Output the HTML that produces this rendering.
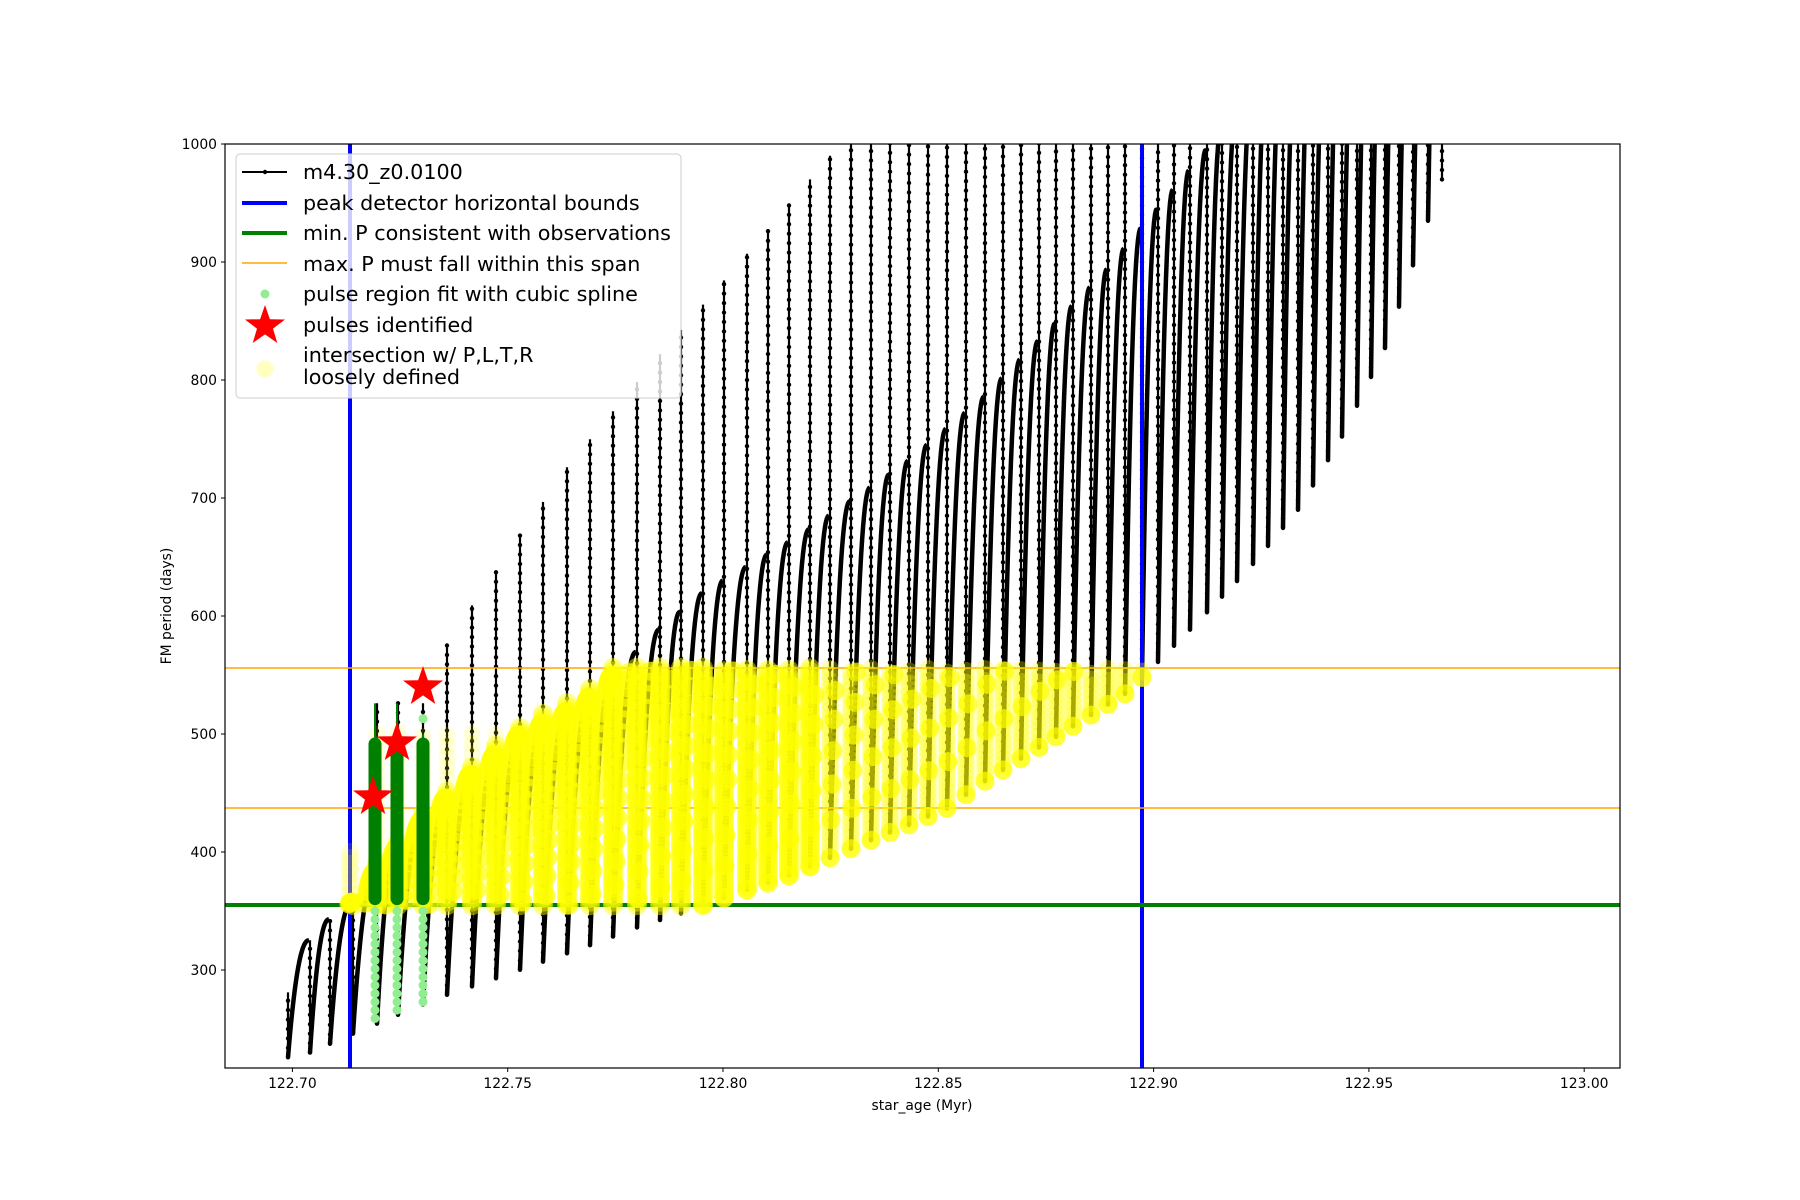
<!DOCTYPE html>
<html><head><meta charset="utf-8"><style>
html,body{margin:0;padding:0;background:#fff;}
svg{display:block;font-family:"DejaVu Sans","Liberation Sans",sans-serif;}
</style></head><body>
<svg id="s" width="1800" height="1200" xmlns="http://www.w3.org/2000/svg">
<defs><clipPath id="ax"><rect x="225" y="144" width="1395" height="924"/></clipPath></defs>
<rect width="1800" height="1200" fill="#fff"/>
<g id="plot" clip-path="url(#ax)"></g>
<rect x="225" y="144" width="1395" height="924" fill="none" stroke="#000" stroke-width="1.2"/>
<g id="ticks" font-size="13.9" fill="#000"></g>
<text x="922" y="1110" font-size="13.9" text-anchor="middle">star_age (Myr)</text>
<text x="0" y="0" font-size="13.9" text-anchor="middle" transform="translate(171,606) rotate(-90)">FM period (days)</text>
<g id="legend"></g>
</svg>
<script>
const Y=v=>144+(1000-v)*1.18;
function interp(p,x){if(x<=p[0][0])return p[0][1];for(let i=1;i<p.length;i++){if(x<=p[i][0]){const a=p[i-1],b=p[i];return a[1]+(b[1]-a[1])*(x-a[0])/(b[0]-a[0]);}}const a=p[p.length-2],b=p[p.length-1];return b[1]+(b[1]-a[1])*(x-b[0])/(b[0]-a[0]);}
const X=[288,310,330,353,377,398,423,447,472,496,520,543,567,590,613,637,660,681,703,724,747,768,789,810,830,851,871,890,909,928,947,966,985,1003,1021,1039,1056,1073,1091,1108,1125,1142,1158,1174,1190,1207,1222,1237,1253,1268,1283,1298,1313,1328,1342,1357,1371,1385,1399,1413,1428,1442];
const AP=[[288,300],[305,321],[323,340],[347,352],[377,385],[420,425],[470,465],[520,500],[583,526],[610,548],[657,587],[703,620],[803,670],[903,728],[983,785],[1103,890],[1203,992],[1442,1250]];
const LP=[[288,226],[310,230],[353,246],[398,262],[447,279],[496,293],[543,307],[590,321],[637,336],[681,348],[703,355],[747,368],[789,380],[830,395],[871,410],[909,423],[947,437],[985,460],[1125,534],[1158,561],[1200,597],[1250,641],[1300,692],[1342,752],[1385,827],[1442,970]];
function H(x){if(x<370)return 0;if(x<435)return 526;return interp([[447,575],[472,609],[566,725],[658,820],[740,900],[850,1010],[1442,1100]],x);}
let spike="",arch="",dots="",yel="",yelS="",yelA="",yelP="";
let prevEnd=null;
const spikes=[];
for(let k=0;k<X.length;k++){
  const x=X[k];const L=interp(LP,x);
  let top;
  if(k==0){top=281;}else{top=Math.max(H(x),prevEnd);}
  if(k==X.length-1)top=1010;
  spike+=`M${x},${Y(top).toFixed(1)}L${x},${Y(L).toFixed(1)}`;
  spikes.push([x,L,top,prevEnd===null?0:prevEnd]);
  if(k<X.length-1){
    const x2=X[k+1]-1;const A=interp(AP,x2);
    let pts=[];
    for(let xx=x;xx<=x2+0.01;xx+=1){const u=(xx-x)/(x2-x);const v=L+(A-L)*(1-Math.pow(1-u,2.2));pts.push([xx,v]);}
    arch+="M"+pts.map(p=>p[0].toFixed(1)+","+Y(p[1]).toFixed(1)).join("L");
    for(const p of pts){if(p[0]>=349&&p[0]<=1143&&p[1]>=355&&p[1]<=556)yelA+=`<circle cx="${p[0].toFixed(1)}" cy="${Y(p[1]).toFixed(1)}" r="9.5"/>`;}
    prevEnd=A;
  }
}
for(const [x,L,top,pe] of spikes){
  for(let v=L;v<=Math.min(top,1005);v+=8){dots+=`<circle cx="${x}" cy="${Y(v).toFixed(1)}" r="2.2"/>`;}
  if(x>=349&&x<=1143){
    const ytop=Math.min(pe+8,556,top);
    const solid=x<830;
    for(let v=Math.max(L,355);v<=ytop;v+=(solid?3:5)){const c=`<circle cx="${x}" cy="${Y(v).toFixed(1)}" r="${solid?10:9}"/>`;if(solid)yelS+=c;else yel+=c;}
    if(ytop<505){for(let v=ytop+9;v<=Math.min(505,top);v+=9)yelP+=`<circle cx="${x}" cy="${Y(v).toFixed(1)}" r="8.5"/>`;}
  }
}
for(let v=355;v<=400;v+=5)yelP+=`<circle cx="350" cy="${Y(v).toFixed(1)}" r="9"/>`;
function star(cx,cy,R){let p=[];for(let i=0;i<10;i++){const r=i%2?R*0.4:R;const a=-Math.PI/2+i*Math.PI/5;p.push((cx+r*Math.cos(a)).toFixed(1)+","+(cy+r*Math.sin(a)).toFixed(1));}return `<polygon points="${p.join(" ")}" fill="#ff0000"/>`;}
let g="";
g+=`<path d="${arch}" fill="none" stroke="#000" stroke-width="4.5" stroke-linejoin="round"/>`;
g+=`<path d="${spike}" fill="none" stroke="#000" stroke-width="2.2"/>`;
g+=`<g fill="#000">${dots}</g>`;
g+=`<line x1="350" y1="144" x2="350" y2="1068" stroke="#0000ff" stroke-width="4"/>`;
g+=`<line x1="1142" y1="144" x2="1142" y2="1068" stroke="#0000ff" stroke-width="4"/>`;
g+=`<line x1="225" y1="905" x2="1620" y2="905" stroke="#008000" stroke-width="4"/>`;
g+=`<line x1="225" y1="668" x2="1620" y2="668" stroke="#ffa500" stroke-width="1.6"/>`;
g+=`<line x1="225" y1="808" x2="1620" y2="808" stroke="#ffa500" stroke-width="1.6"/>`;
g+=`<g fill="#ffff00" fill-opacity="0.15">${yelP}</g>`;
g+=`<g fill="#ffff00" fill-opacity="0.3">${yel}</g>`;
g+=`<g fill="#ffff00" fill-opacity="0.45">${yelS}</g>`;
g+=`<g fill="#ffff00" fill-opacity="0.7">${yelA}</g>`;
const GP=[[375,255,526],[397,264,526],[423,272,500]];
for(const [x,bot,tp] of GP){
  g+=`<line x1="${x}" y1="${Y(497)}" x2="${x}" y2="${Y(tp)}" stroke="#008000" stroke-width="2"/>`;
  g+=`<rect x="${x-6.5}" y="${Y(497)}" width="13" height="${Y(355)-Y(497)}" rx="6.5" fill="#008000"/>`;
  let lg="";for(let v=350;v>=bot;v-=7)lg+=`<circle cx="${x}" cy="${Y(v).toFixed(1)}" r="4.5"/>`;
  g+=`<g fill="#90ee90">${lg}</g>`;
}
g+=`<circle cx="423" cy="${Y(513)}" r="4.5" fill="#90ee90"/>`;
g+=star(373,797,21)+star(397,743,21)+star(423,687,21);
document.getElementById("plot").innerHTML=g;
let t="";
const xt=["122.70","122.75","122.80","122.85","122.90","122.95","123.00"];
xt.forEach((s,i)=>{const x=292.4+i*215.3;t+=`<line x1="${x}" y1="1068" x2="${x}" y2="1072" stroke="#000" stroke-width="1"/><text x="${x}" y="1088" text-anchor="middle">${s}</text>`;});
for(let v=300;v<=1000;v+=100){const y=Y(v);t+=`<line x1="221" y1="${y}" x2="225" y2="${y}" stroke="#000" stroke-width="1"/><text x="217" y="${y+5}" text-anchor="end">${v}</text>`;}
document.getElementById("ticks").innerHTML=t;
let l=`<rect x="236" y="154" width="445" height="244" rx="4" fill="#fff" fill-opacity="0.8" stroke="#ccc" stroke-width="1"/>`;
l+=`<line x1="242" y1="172" x2="287" y2="172" stroke="#000" stroke-width="2"/><circle cx="265" cy="172" r="2.2" fill="#000"/>`;
l+=`<line x1="242" y1="203" x2="287" y2="203" stroke="#0000ff" stroke-width="4"/>`;
l+=`<line x1="242" y1="233" x2="287" y2="233" stroke="#008000" stroke-width="4"/>`;
l+=`<line x1="242" y1="263" x2="287" y2="263" stroke="#ffa500" stroke-width="1.6"/>`;
l+=`<circle cx="265" cy="294" r="4.5" fill="#90ee90"/>`;
l+=star(265,326,21);
l+=`<circle cx="265" cy="369" r="8.5" fill="#ffff00" fill-opacity="0.25"/>`;
const lt=[["m4.30_z0.0100",179],["peak detector horizontal bounds",210],["min. P consistent with observations",240],["max. P must fall within this span",271],["pulse region fit with cubic spline",301],["pulses identified",332],["intersection w/ P,L,T,R",362],["loosely defined",384]];
lt.forEach(([s,y])=>{l+=`<text x="303" y="${y}" font-size="20.7">${s}</text>`;});
document.getElementById("legend").innerHTML=l;
</script>
</body></html>
